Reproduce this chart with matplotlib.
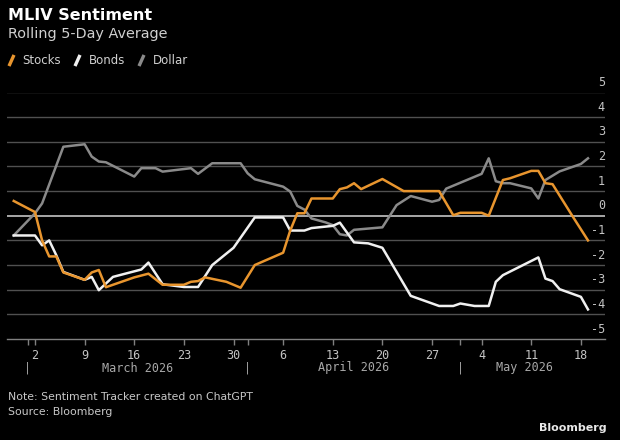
import numpy as np
import matplotlib
matplotlib.use("Agg")
import matplotlib.pyplot as plt
import matplotlib.dates as mdates
import matplotlib.transforms as mtransforms
from matplotlib.lines import Line2D

# vertices (date, value)
stocks_dates = ['2026-02-27', '2026-03-02', '2026-03-03', '2026-03-04', '2026-03-05',
                '2026-03-06', '2026-03-09', '2026-03-10', '2026-03-11', '2026-03-12',
                '2026-03-16', '2026-03-18', '2026-03-20', '2026-03-23', '2026-03-24',
                '2026-03-25', '2026-03-26', '2026-03-29', '2026-03-31', '2026-04-02',
                '2026-04-06', '2026-04-07', '2026-04-08', '2026-04-09', '2026-04-10',
                '2026-04-13', '2026-04-14', '2026-04-15', '2026-04-16', '2026-04-17',
                '2026-04-20', '2026-04-23', '2026-04-28', '2026-04-30', '2026-05-01',
                '2026-05-04', '2026-05-05', '2026-05-07', '2026-05-08', '2026-05-11',
                '2026-05-12', '2026-05-13', '2026-05-14', '2026-05-17', '2026-05-19']
stocks = [0.6, 0.15, -1.0, -1.65, -1.65,
          -2.3, -2.6, -2.3, -2.2, -2.9,
          -2.5, -2.35, -2.8, -2.8, -2.68,
          -2.65, -2.5, -2.68, -2.92, -2.0,
          -1.5, -0.6, 0.1, 0.1, 0.7,
          0.7, 1.08, 1.15, 1.32, 1.08,
          1.49, 1.0, 1.0, 0.02, 0.12,
          0.12, 0.0, 1.45, 1.52, 1.82,
          1.82, 1.32, 1.28, -0.1, -1.0]

bonds_dates = ['2026-02-27', '2026-03-02', '2026-03-03', '2026-03-04', '2026-03-05',
               '2026-03-06', '2026-03-09', '2026-03-10', '2026-03-11', '2026-03-13',
               '2026-03-17', '2026-03-18', '2026-03-20', '2026-03-23', '2026-03-25',
               '2026-03-27', '2026-03-30', '2026-04-02', '2026-04-06', '2026-04-07',
               '2026-04-09', '2026-04-10', '2026-04-13', '2026-04-14', '2026-04-16',
               '2026-04-18', '2026-04-20', '2026-04-24', '2026-04-28', '2026-04-30',
               '2026-05-01', '2026-05-03', '2026-05-05', '2026-05-06', '2026-05-07',
               '2026-05-12', '2026-05-13', '2026-05-14', '2026-05-15', '2026-05-18',
               '2026-05-19']
bonds = [-0.8, -0.8, -1.2, -1.0, -1.6,
         -2.28, -2.6, -2.48, -3.02, -2.48,
         -2.18, -1.9, -2.78, -2.89, -2.89,
         -2.0, -1.3, -0.07, -0.07, -0.6,
         -0.6, -0.5, -0.41, -0.28, -1.08,
         -1.12, -1.3, -3.25, -3.66, -3.66,
         -3.56, -3.66, -3.66, -2.68, -2.41,
         -1.69, -2.55, -2.65, -2.98, -3.29,
         -3.8]

dollar_dates = ['2026-02-27', '2026-03-02', '2026-03-03', '2026-03-06', '2026-03-09',
                '2026-03-10', '2026-03-11', '2026-03-12', '2026-03-16', '2026-03-17',
                '2026-03-19', '2026-03-20', '2026-03-24', '2026-03-25', '2026-03-27',
                '2026-03-31', '2026-04-01', '2026-04-02', '2026-04-06', '2026-04-07',
                '2026-04-08', '2026-04-09', '2026-04-10', '2026-04-12', '2026-04-13',
                '2026-04-14', '2026-04-15', '2026-04-16', '2026-04-20', '2026-04-22',
                '2026-04-24', '2026-04-27', '2026-04-28', '2026-04-29', '2026-05-04',
                '2026-05-05', '2026-05-06', '2026-05-07', '2026-05-08', '2026-05-11',
                '2026-05-12', '2026-05-13', '2026-05-15', '2026-05-18', '2026-05-19']
dollar = [-0.8, 0.1, 0.5, 2.8, 2.9,
          2.4, 2.2, 2.17, 1.59, 1.93,
          1.93, 1.79, 1.93, 1.7, 2.13,
          2.13, 1.72, 1.48, 1.18, 0.98,
          0.4, 0.25, -0.11, -0.27, -0.38,
          -0.75, -0.8, -0.57, -0.47, 0.43,
          0.8, 0.57, 0.64, 1.1, 1.7,
          2.33, 1.4, 1.32, 1.32, 1.11,
          0.7, 1.45, 1.8, 2.1, 2.33]

week_ticks = ['2026-03-02', '2026-03-09', '2026-03-16', '2026-03-23', '2026-03-30',
              '2026-04-06', '2026-04-13', '2026-04-20', '2026-04-27', '2026-05-04',
              '2026-05-11', '2026-05-18']
month_starts = ['2026-03-01', '2026-04-01', '2026-05-01']
month_labels = ['March 2026', 'April 2026', 'May 2026']
month_label_pos = ['2026-03-16 12:00', '2026-04-16', '2026-05-10']
y_ticks = list(range(-5, 6))

ORANGE = '#e8952e'
WHITE = '#f0f0f0'
GRAY = '#8a8a8a'
TXT = '#c4c4c4'
MONO = 'DejaVu Sans Mono'


def d(lst):
    return mdates.date2num(np.array(lst, dtype='datetime64[m]'))


fig = plt.figure(figsize=(6.2, 4.4), dpi=100, facecolor='black')
ax = fig.add_axes([7 / 620, 1 - 339 / 440, 598 / 620, 246.5 / 440])
ax.set_facecolor('black')

x0 = d(['2026-03-02'])[0]
ax.set_xlim(x0 - 3.95, x0 + 80.4)
ax.set_ylim(-5, 5)

for v in y_ticks:
    if v == 0:
        ax.axhline(v, color='#a8a8a8', lw=1.4, zorder=1)
    elif v > -5:
        ax.axhline(v, color='#505050', lw=1.0, zorder=1)

ax.plot(d(dollar_dates), dollar, color=GRAY, lw=1.8, zorder=3)
ax.plot(d(bonds_dates), bonds, color=WHITE, lw=1.8, zorder=4)
ax.plot(d(stocks_dates), stocks, color=ORANGE, lw=1.8, zorder=5)

# y labels sit right-aligned just above each gridline
ytrans = mtransforms.blended_transform_factory(ax.transAxes, ax.transData) + \
    mtransforms.ScaledTranslation(0, 0.1, fig.dpi_scale_trans)
for v in y_ticks:
    ax.text(1.0, v, str(v), transform=ytrans, ha='right', va='center',
            color=TXT, fontsize=8.5, family=MONO)
ax.set_yticks([])

for s in ['top', 'left', 'right']:
    ax.spines[s].set_visible(False)
ax.spines['bottom'].set_color('#808080')
ax.spines['bottom'].set_linewidth(1.0)

ax.set_xticks(d(week_ticks))
ax.set_xticklabels([w[-2:].lstrip('0') for w in week_ticks])
ax.set_xticks(d(month_starts), minor=True)
ax.tick_params(axis='x', which='both', direction='out', length=4, width=1,
               color='#808080', labelcolor=TXT, labelsize=8.5, pad=3)
for lbl in ax.get_xticklabels():
    lbl.set_family(MONO)

xtrans = mtransforms.blended_transform_factory(ax.transData, fig.transFigure)
for m in d(month_starts):
    ax.text(m, 1 - 368 / 440, '|', transform=xtrans, ha='center', va='center',
            color='#9a9a9a', fontsize=8.5, family=MONO)
for lab, pos in zip(month_labels, d(month_label_pos)):
    ax.text(pos, 1 - 368 / 440, lab, transform=xtrans, ha='center', va='center',
            color='#a8a8a8', fontsize=8.5, family=MONO)

fig.text(8 / 620, 1 - 15 / 440, 'MLIV Sentiment', color='white', fontsize=11.5,
         fontweight='bold', va='center', ha='left')
fig.text(8 / 620, 1 - 34 / 440, 'Rolling 5-Day Average', color='#d0d0d0',
         fontsize=10.4, va='center', ha='left')

slash = [(-0.45, -1), (0.45, 1)]
handles = [Line2D([], [], ls='none', marker=slash, markersize=8, markeredgewidth=2.4,
                  color=c) for c in (ORANGE, WHITE, GRAY)]
fig.legend(handles, ['Stocks', 'Bonds', 'Dollar'], loc='center left',
           bbox_to_anchor=(5 / 620, 1 - 61 / 440), ncol=3, frameon=False,
           fontsize=8.5, labelcolor='#d0d0d0', handlelength=1.0, handletextpad=0.5,
           columnspacing=0.85, borderpad=0, borderaxespad=0)

fig.text(8 / 620, 1 - 397 / 440, 'Note: Sentiment Tracker created on ChatGPT',
         color='#c8c8c8', fontsize=7.8, va='center', ha='left')
fig.text(8 / 620, 1 - 412 / 440, 'Source: Bloomberg', color='#c8c8c8',
         fontsize=7.8, va='center', ha='left')
fig.text(607 / 620, 1 - 428 / 440, 'Bloomberg', color='#e8e8e8', fontsize=8,
         fontweight='bold', va='center', ha='right')

fig.savefig('out.png', dpi=100, facecolor='black')
